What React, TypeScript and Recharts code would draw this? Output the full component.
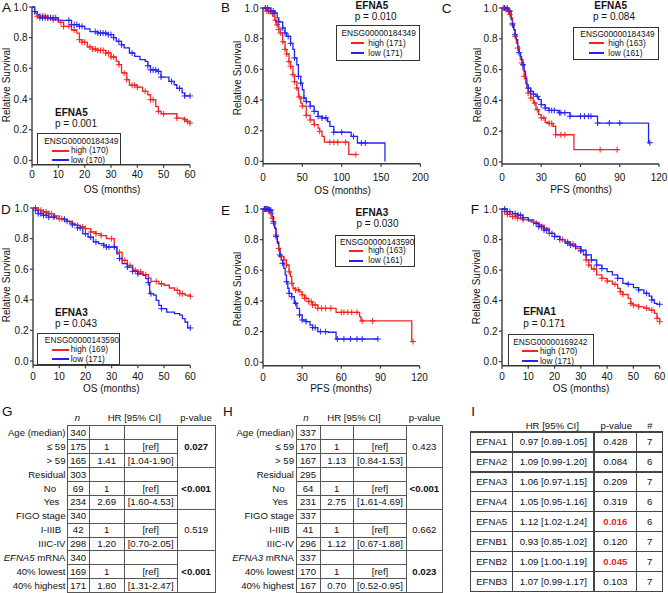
import React from 'react';
import { ComposedChart, Line, Scatter, XAxis, YAxis } from 'recharts';

type Pt = [number, number];

// ---------------- Kaplan–Meier step curves: [months, survival] ----------------
const A_HIGH: Pt[] = [[0,1],[1,0.96],[2,0.94],[6,0.93],[8,0.917],[10,0.9],[12,0.874],[15,0.85],[17,0.83],[18,0.787],[19,0.77],[21,0.74],[23,0.726],[25,0.717],[28,0.7],[30,0.674],[32,0.646],[33,0.624],[34,0.57],[36,0.526],[37,0.49],[40,0.478],[42,0.45],[44,0.428],[45,0.396],[47,0.35],[48,0.32],[49,0.304],[55,0.276],[58,0.265],[59,0.254],[60,0.243]];
const A_LOW: Pt[] = [[0,1],[1,0.97],[2,0.95],[3,0.93],[10,0.913],[15,0.885],[18,0.874],[20,0.857],[22,0.84],[25,0.83],[29,0.82],[31,0.8],[32,0.776],[34,0.754],[35,0.733],[37,0.7],[39,0.678],[41,0.657],[43,0.646],[44,0.617],[45,0.59],[48,0.58],[49,0.543],[52,0.515],[54,0.493],[55,0.47],[57,0.44],[58,0.42],[60,0.42]];
const A_HIGH_CENS = [2,3,4,5,6,7,8,11,12,14,16,18,19,20,22,23,24,25,26,27,28,29,30,31,33,35,36,38,39,40,43,45,46,48,50,55,58,59,60];
const A_LOW_CENS = [1,3,4,5,6,7,8,9,14,15,16,17,18,19,24,25,26,27,28,29,30,31,33,34,38,44,45,46,47,48,49,53,56,58,60];

const B_HIGH: Pt[] = [[0,1],[5,0.98],[10,0.963],[13,0.946],[15,0.92],[17,0.89],[20,0.86],[22,0.837],[25,0.78],[28,0.73],[30,0.7],[33,0.65],[35,0.62],[38,0.565],[40,0.52],[43,0.478],[45,0.42],[48,0.38],[50,0.36],[55,0.3],[60,0.27],[65,0.24],[70,0.217],[72,0.196],[75,0.163],[78,0.125],[109,0.045],[118,0.045]];
const B_LOW: Pt[] = [[0,1],[10,0.98],[15,0.967],[18,0.935],[20,0.91],[25,0.87],[28,0.837],[30,0.815],[35,0.77],[38,0.73],[40,0.674],[43,0.63],[45,0.554],[48,0.51],[50,0.467],[52,0.413],[55,0.39],[60,0.36],[65,0.326],[70,0.293],[75,0.283],[82,0.26],[85,0.228],[90,0.19],[112,0.163],[120,0.12],[155,0]];
const B_HIGH_CENS = [3,5,7,9,12,16,18,20,22,25,28,30,33,35,38,40,43,46,50,55,60,65,72,85,90,95,105,118];
const B_LOW_CENS = [3,6,10,13,15,20,25,28,32,35,40,45,48,52,55,60,65,70,75,80,90,100,115,125,130];

const C_HIGH: Pt[] = [[0,1],[3,0.99],[5,0.98],[6,0.957],[7,0.935],[8,0.9],[9,0.86],[10,0.816],[11,0.77],[12,0.74],[13,0.71],[14,0.665],[15,0.643],[16,0.6],[17,0.556],[18,0.513],[19,0.48],[20,0.448],[22,0.416],[24,0.383],[26,0.34],[28,0.307],[30,0.286],[33,0.258],[36,0.25],[39,0.232],[41,0.177],[55,0.08],[89,0.08]];
const C_LOW: Pt[] = [[0,1],[5,0.98],[7,0.924],[8,0.89],[9,0.86],[10,0.827],[11,0.794],[12,0.75],[13,0.71],[14,0.686],[15,0.665],[16,0.632],[17,0.589],[18,0.545],[19,0.502],[20,0.48],[22,0.459],[24,0.44],[26,0.426],[28,0.405],[30,0.372],[33,0.35],[36,0.335],[43,0.32],[52,0.297],[73,0.253],[112,0.125],[113,0.125]];
const C_HIGH_CENS = [1,2,3,4,5,6,8,10,12,15,17,20,22,25,27,30,32,36,38,41,45,48,75,88];
const C_LOW_CENS = [2,4,6,8,10,13,16,20,22,24,27,30,33,36,38,40,44,45,48,52,60,63,66,68,73,82,90,113];

const D_HIGH: Pt[] = [[0,1],[2,0.985],[4,0.974],[6,0.963],[8,0.948],[10,0.93],[12,0.913],[14,0.9],[16,0.887],[18,0.876],[20,0.865],[22,0.843],[24,0.832],[26,0.82],[28,0.8],[31,0.745],[32,0.71],[34,0.658],[36,0.625],[38,0.593],[40,0.582],[42,0.564],[44,0.542],[45,0.52],[48,0.505],[50,0.495],[52,0.477],[54,0.462],[56,0.44],[58,0.43],[60,0.423]];
const D_LOW: Pt[] = [[0,1],[1,0.985],[2,0.963],[4,0.952],[6,0.94],[9,0.93],[12,0.926],[13,0.913],[15,0.89],[17,0.87],[19,0.832],[21,0.81],[23,0.778],[25,0.767],[27,0.756],[28,0.745],[32,0.7],[33,0.67],[34,0.636],[36,0.614],[38,0.586],[40,0.57],[42,0.56],[43,0.538],[44,0.512],[44.5,0.44],[46,0.43],[47,0.396],[48,0.364],[49,0.342],[51,0.32],[54,0.31],[56,0.3],[57,0.277],[58,0.255],[59,0.216],[60,0.216]];
const D_HIGH_CENS = [1,2,3,4,5,6,7,8,10,11,15,17,19,20,22,24,26,30,33,35,37,39,41,43,47,49,55,56,57,60];
const D_LOW_CENS = [1,2,3,4,5,6,8,12,13,15,17,18,20,22,24,27,28,29,31,33,36,38,40,44,45,49,60];

const E_HIGH: Pt[] = [[0,1],[4,0.993],[6,0.97],[7,0.94],[8,0.906],[9,0.874],[10,0.83],[11,0.787],[12,0.743],[13,0.7],[14,0.69],[16,0.667],[18,0.635],[20,0.59],[21,0.56],[22,0.515],[23,0.483],[25,0.472],[28,0.46],[30,0.44],[32,0.417],[35,0.396],[38,0.374],[42,0.352],[56,0.326],[74,0.298],[75,0.27],[114,0.135],[115,0.135]];
const E_LOW: Pt[] = [[0,1],[5,0.993],[7,0.95],[8,0.917],[9,0.874],[10,0.82],[11,0.776],[12,0.733],[13,0.7],[14,0.667],[15,0.646],[16,0.613],[17,0.57],[18,0.526],[19,0.483],[20,0.45],[22,0.428],[24,0.385],[26,0.352],[28,0.309],[30,0.276],[33,0.265],[36,0.243],[38,0.226],[42,0.2],[50,0.196],[56,0.152],[88,0.152]];
const E_HIGH_CENS = [1,2,3,4,5,6,7,8,10,12,14,16,18,20,22,25,27,30,32,33,35,37,38,40,42,45,48,52,60,62,65,68,72,76,84,115];
const E_LOW_CENS = [1,2,3,4,5,6,8,10,13,15,18,20,22,25,28,30,33,38,40,44,48,57,62,67,72,76,88];

const F_HIGH: Pt[] = [[0,1],[1,0.983],[2,0.965],[4,0.95],[6,0.94],[8,0.93],[10,0.92],[12,0.913],[14,0.895],[16,0.873],[18,0.84],[20,0.82],[22,0.8],[24,0.786],[26,0.77],[28,0.742],[30,0.725],[31,0.7],[32,0.666],[33,0.633],[34,0.607],[36,0.568],[38,0.546],[40,0.528],[42,0.507],[44,0.48],[45,0.458],[46,0.44],[48,0.415],[49,0.382],[50,0.371],[52,0.36],[54,0.35],[56,0.338],[58,0.317],[59,0.284],[60,0.262]];
const F_LOW: Pt[] = [[0,1],[2,0.983],[4,0.97],[6,0.96],[8,0.943],[10,0.928],[12,0.906],[14,0.884],[16,0.862],[18,0.84],[20,0.82],[22,0.8],[24,0.776],[26,0.764],[28,0.753],[30,0.73],[32,0.7],[34,0.666],[36,0.633],[38,0.61],[40,0.59],[42,0.568],[44,0.546],[46,0.513],[48,0.507],[50,0.485],[52,0.47],[54,0.448],[56,0.43],[57,0.404],[58,0.382],[59,0.376],[60,0.376]];
const F_HIGH_CENS = [1,2,3,4,5,6,8,12,14,16,18,20,23,25,27,30,32,33,35,38,40,43,45,46,49,50,52,55,57,59,60];
const F_LOW_CENS = [1,2,3,5,6,7,8,13,14,15,16,17,19,20,22,25,26,28,30,32,34,36,38,44,48,52,55,57,60];

// ---------------- panel annotations ----------------
const PANEL_LETTERS = ['A', 'B', 'C', 'D', 'E', 'F'];
const GENES = ['EFNA5', 'EFNA5', 'EFNA5', 'EFNA3', 'EFNA3', 'EFNA1'];
const P_VALUES = ['0.001', '0.010', '0.084', '0.043', '0.030', '0.171'];
const ENSG_IDS = ['ENSG00000184349', 'ENSG00000184349', 'ENSG00000184349', 'ENSG00000143590', 'ENSG00000143590', 'ENSG00000169242'];
const N_HIGH = [170, 171, 163, 169, 163, 170];
const N_LOW = [170, 171, 161, 171, 161, 171];
const X_TITLES = ['OS (months)', 'OS (months)', 'PFS (months)', 'OS (months)', 'PFS (months)', 'OS (months)'];
const Y_TICKS = [0, 0.2, 0.4, 0.6, 0.8, 1.0];
const X_TICKS_60 = [0, 10, 20, 30, 40, 50, 60];
const X_TICKS_200 = [0, 50, 100, 150, 200];
const X_TICKS_120 = [0, 30, 60, 90, 120];

// ---------------- tables ----------------
const G_LABELS = ['Age (median)', '≤ 59', '> 59', 'Residual', 'No', 'Yes', 'FIGO stage', 'I-IIIB', 'IIIC-IV', 'EFNA5| mRNA', '40% lowest', '40% highest'];
const G_N = ['340', '175', '165', '303', '69', '234', '340', '42', '298', '340', '169', '171'];
const G_HR = ['', '1', '1.41', '', '1', '2.69', '', '1', '1.20', '', '1', '1.80'];
const G_CI = ['', '[ref]', '[1.04-1.90]', '', '[ref]', '[1.60-4.53]', '', '[ref]', '[0.70-2.05]', '', '[ref]', '[1.31-2.47]'];
const G_P = ['0.027', '<0.001', '0.519', '<0.001'];
const G_P_BOLD = [true, true, false, true];

const H_LABELS = ['Age (median)', '≤ 59', '> 59', 'Residual', 'No', 'Yes', 'FIGO stage', 'I-IIIB', 'IIIC-IV', 'EFNA3| mRNA', '40% lowest', '40% highest'];
const H_N = ['337', '170', '167', '295', '64', '231', '337', '41', '296', '337', '170', '167'];
const H_HR = ['', '1', '1.13', '', '1', '2.75', '', '1', '1.12', '', '1', '0.70'];
const H_CI = ['', '[ref]', '[0.84-1.53]', '', '[ref]', '[1.61-4.69]', '', '[ref]', '[0.67-1.88]', '', '[ref]', '[0.52-0.95]'];
const H_P = ['0.423', '<0.001', '0.662', '0.023'];
const H_P_BOLD = [false, true, false, true];

const I_GENES = ['EFNA1', 'EFNA2', 'EFNA3', 'EFNA4', 'EFNA5', 'EFNB1', 'EFNB2', 'EFNB3'];
const I_HR = ['0.97 [0.89-1.05]', '1.09 [0.99-1.20]', '1.06 [0.97-1.15]', '1.05 [0.95-1.16]', '1.12 [1.02-1.24]', '0.93 [0.85-1.02]', '1.09 [1.00-1.19]', '1.07 [0.99-1.17]'];
const I_P = ['0.428', '0.084', '0.209', '0.319', '0.016', '0.120', '0.045', '0.103'];
const I_SIG = [false, false, false, false, true, false, true, false];
const I_COUNT = ['7', '6', '7', '6', '6', '7', '7', '7'];

// ---------------- styling / layout ----------------
const RED = '#f22424';
const BLUE = '#2424f2';
const SIG_RED = '#e8262c';
const AXIS = '#3a3a3a';
const TXT = '#111';
const FONT = '"Liberation Sans", Arial, Helvetica, sans-serif';

type Anchor = 'start' | 'middle' | 'end';

const SERIES = [
  { high: A_HIGH, low: A_LOW, hc: A_HIGH_CENS, lc: A_LOW_CENS, xMax: 60, xTicks: X_TICKS_60 },
  { high: B_HIGH, low: B_LOW, hc: B_HIGH_CENS, lc: B_LOW_CENS, xMax: 200, xTicks: X_TICKS_200 },
  { high: C_HIGH, low: C_LOW, hc: C_HIGH_CENS, lc: C_LOW_CENS, xMax: 120, xTicks: X_TICKS_120 },
  { high: D_HIGH, low: D_LOW, hc: D_HIGH_CENS, lc: D_LOW_CENS, xMax: 60, xTicks: X_TICKS_60 },
  { high: E_HIGH, low: E_LOW, hc: E_HIGH_CENS, lc: E_LOW_CENS, xMax: 120, xTicks: X_TICKS_120 },
  { high: F_HIGH, low: F_LOW, hc: F_HIGH_CENS, lc: F_LOW_CENS, xMax: 60, xTicks: X_TICKS_60 },
];

const LAYOUT = [
  { x0: 32, x1: 190, yTop: 7.3, yZero: 160.7, axisY: 165, tickM: 3.5,
    letter: [2, 8], yt: [6.7, 85], xt: [112, 190],
    gene: [55, 113, 'start'], p: [55, 124, 'start'],
    lg: { l: 36.7, t: 132.7, r: 121, b: 165.5, ex: 81.3, ey: 141, l0: 53, l1: 68, tx: 71, yh: 150.5, yl: 160 } },
  { x0: 263.3, x1: 420.7, yTop: 8.3, yZero: 161.7, axisY: 164, tickM: 7.5,
    letter: [221, 7.7], yt: [238.3, 78], xt: [342.5, 190.7],
    gene: [372, 6, 'middle'], p: [375.7, 16.7, 'middle'],
    lg: { l: 335.7, t: 25, r: 420, b: 60.7, ex: 378.7, ey: 33.3, l0: 351.7, l1: 363.3, tx: 368.3, yh: 43.3, yl: 53.3 } },
  { x0: 502.3, x1: 659.3, yTop: 8.3, yZero: 162.3, axisY: 164.3, tickM: 6.5,
    letter: [441.7, 8.3], yt: [478.3, 85], xt: [581, 190],
    gene: [610.7, 5.7, 'middle'], p: [614, 16.7, 'middle'],
    lg: { l: 573.3, t: 27, r: 659, b: 60, ex: 617.5, ey: 34, l0: 590, l1: 603.3, tx: 608.3, yh: 43.3, yl: 52.7 } },
  { x0: 32.7, x1: 190, yTop: 207.7, yZero: 360.7, axisY: 365, tickM: 5,
    letter: [1, 210], yt: [6.7, 285], xt: [111.3, 388.5],
    gene: [55, 313.3, 'start'], p: [55, 324.3, 'start'],
    lg: { l: 37.3, t: 333.3, r: 120, b: 365.5, ex: 82, ey: 340.5, l0: 53.3, l1: 68.3, tx: 70.7, yh: 349.5, yl: 359.3 } },
  { x0: 262.7, x1: 419.3, yTop: 209, yZero: 362.3, axisY: 365.7, tickM: 5,
    letter: [221, 211], yt: [238.3, 289], xt: [341, 388.8],
    gene: [372, 213.3, 'middle'], p: [377.5, 224.3, 'middle'],
    lg: { l: 335, t: 235, r: 415, b: 266.7, ex: 377.2, ey: 241.7, l0: 350, l1: 361.7, tx: 368.3, yh: 250.5, yl: 260.5 } },
  { x0: 502.3, x1: 660, yTop: 209, yZero: 361.7, axisY: 365.7, tickM: 4,
    letter: [470.7, 210], yt: [476.7, 286.7], xt: [581, 388.5],
    gene: [523.3, 311.7, 'start'], p: [523.3, 324.3, 'start'],
    lg: { l: 508.3, t: 334.3, r: 594, b: 366, ex: 550.3, ey: 341.7, l0: 523.3, l1: 536.7, tx: 540, yh: 351, yl: 361.3 } },
];

// ---------------- helpers ----------------
const survAt = (curve: Pt[], t: number) => {
  let s = curve[0][1];
  for (const [tt, ss] of curve) if (tt <= t) s = ss;
  return s;
};
const toRows = (c: Pt[]) => c.map(([t, s]) => ({ t, s }));
const toCens = (curve: Pt[], times: number[]) => times.map((t) => ({ t, s: survAt(curve, t) }));

const plusShape = (color: string) => (props: any) => {
  const { cx, cy } = props;
  if (cx == null || cy == null || isNaN(cx) || isNaN(cy)) return <g />;
  return (
    <path d={`M${cx - 3},${cy}H${cx + 3}M${cx},${cy - 3}V${cy + 3}`} stroke={color} strokeWidth={1} fill="none" />
  );
};

function Txt({ x, y, size = 10, anchor = 'start', bold, italic, color = TXT, children }: {
  x: number; y: number; size?: number; anchor?: Anchor; bold?: boolean; italic?: boolean; color?: string; children: React.ReactNode;
}) {
  const tx = anchor === 'middle' ? '-50%' : anchor === 'end' ? '-100%' : '0';
  return (
    <div
      style={{
        position: 'absolute', left: x, top: y - size * 0.5, lineHeight: `${size}px`, fontSize: size,
        fontWeight: bold ? 700 : 400, fontStyle: italic ? 'italic' : 'normal', color,
        whiteSpace: 'nowrap', transform: `translateX(${tx})`, fontFamily: FONT,
      }}
    >
      {children}
    </div>
  );
}

function HLine({ x0, x1, y, color = '#555', w = 1 }: { x0: number; x1: number; y: number; color?: string; w?: number }) {
  return <div style={{ position: 'absolute', left: x0 - w / 2, top: y - w / 2, width: x1 - x0 + w, height: w, background: color }} />;
}
function VLine({ x, y0, y1, color = '#555', w = 1 }: { x: number; y0: number; y1: number; color?: string; w?: number }) {
  return <div style={{ position: 'absolute', left: x - w / 2, top: y0 - w / 2, width: w, height: y1 - y0 + w, background: color }} />;
}

function KMPanel({ idx }: { idx: number }) {
  const L = LAYOUT[idx];
  const S = SERIES[idx];
  const leftPad = 34, rightPad = 14, topPad = 8, bottomPad = 26;
  const w = L.x1 - L.x0 + leftPad + rightPad;
  const h = L.axisY - L.yTop + topPad + bottomPad;
  const yMin = -(L.axisY - L.yZero) / (L.yZero - L.yTop);
  const tickStyle = { fontSize: 10, fill: TXT, fontFamily: FONT };
  const lg = L.lg;
  return (
    <>
      <div style={{ position: 'absolute', left: L.x0 - leftPad, top: L.yTop - topPad }}>
        <ComposedChart width={w} height={h} margin={{ top: topPad, right: rightPad, bottom: 0, left: 0 }}>
          <XAxis type="number" dataKey="t" domain={[0, S.xMax]} ticks={S.xTicks} interval={0} height={bottomPad}
            tickSize={3} tickMargin={L.tickM} axisLine={{ stroke: AXIS, strokeWidth: 1.4 }}
            tickLine={{ stroke: AXIS, strokeWidth: 1.2 }} tick={tickStyle} />
          <YAxis type="number" dataKey="s" domain={[yMin, 1]} ticks={Y_TICKS} interval={0} width={leftPad}
            tickSize={3} tickMargin={1.5} tickFormatter={(v: number) => v.toFixed(1)}
            axisLine={{ stroke: AXIS, strokeWidth: 1.4 }} tickLine={{ stroke: AXIS, strokeWidth: 1.2 }} tick={tickStyle} />
          <Line data={toRows(S.high)} dataKey="s" type="stepAfter" stroke={RED} strokeWidth={1.3} dot={false} isAnimationActive={false} />
          <Line data={toRows(S.low)} dataKey="s" type="stepAfter" stroke={BLUE} strokeWidth={1.3} dot={false} isAnimationActive={false} />
          <Scatter data={toCens(S.high, S.hc)} dataKey="s" shape={plusShape(RED)} isAnimationActive={false} />
          <Scatter data={toCens(S.low, S.lc)} dataKey="s" shape={plusShape(BLUE)} isAnimationActive={false} />
        </ComposedChart>
      </div>
      <Txt x={L.letter[0]} y={L.letter[1]} size={13.5}>{PANEL_LETTERS[idx]}</Txt>
      <div style={{
        position: 'absolute', left: L.yt[0], top: L.yt[1], transform: 'translate(-50%, -50%) rotate(-90deg)',
        fontSize: 10, lineHeight: '10px', whiteSpace: 'nowrap', color: TXT, fontFamily: FONT,
      }}>Relative Survival</div>
      <Txt x={L.xt[0]} y={L.xt[1]} anchor="middle">{X_TITLES[idx]}</Txt>
      <Txt x={L.gene[0] as number} y={L.gene[1] as number} anchor={L.gene[2] as Anchor} bold>{GENES[idx]}</Txt>
      <Txt x={L.p[0] as number} y={L.p[1] as number} anchor={L.p[2] as Anchor}>{`p = ${P_VALUES[idx]}`}</Txt>
      <div style={{
        position: 'absolute', left: lg.l, top: lg.t, width: lg.r - lg.l, height: lg.b - lg.t,
        border: '1px solid #333', boxSizing: 'border-box', background: '#fff',
      }} />
      <Txt x={lg.ex} y={lg.ey} size={8.3} anchor="middle">{ENSG_IDS[idx]}</Txt>
      <HLine x0={lg.l0} x1={lg.l1} y={lg.yh} color={RED} w={2} />
      <HLine x0={lg.l0} x1={lg.l1} y={lg.yl} color={BLUE} w={2} />
      <Txt x={lg.tx} y={lg.yh} size={8.3}>{`high (${N_HIGH[idx]})`}</Txt>
      <Txt x={lg.tx} y={lg.yl} size={8.3}>{`low (${N_LOW[idx]})`}</Txt>
    </>
  );
}

function renderLabel(s: string) {
  const parts = s.split('|');
  if (parts.length === 2) return (<><i>{parts[0]}</i>{parts[1]}</>);
  return s;
}

function ClinTable({ letter, letterPos, cols, top, rowH, headerY, headerX, labels, labelPos, n, hr, ci, p, pBold }: {
  letter: string; letterPos: number[]; cols: number[]; top: number; rowH: number; headerY: number; headerX: number[];
  labels: string[]; labelPos: [Anchor, number][]; n: string[]; hr: string[]; ci: string[]; p: string[]; pBold: boolean[];
}) {
  const fs = 9.6;
  const rows = labels.length;
  const bottom = top + rows * rowH;
  const items: React.ReactNode[] = [];
  cols.forEach((x, i) => items.push(<VLine key={`v${i}`} x={x} y0={top} y1={bottom} />));
  for (let r = 0; r <= rows; r++) {
    const y = top + r * rowH;
    items.push(<HLine key={`h${r}`} x0={cols[0]} x1={r % 3 === 0 ? cols[4] : cols[3]} y={y} />);
  }
  const cx = (c: number) => (cols[c] + cols[c + 1]) / 2;
  labels.forEach((lab, r) => {
    const y = top + (r + 0.5) * rowH;
    items.push(<Txt key={`l${r}`} x={labelPos[r][1]} y={y} size={fs} anchor={labelPos[r][0]}>{renderLabel(lab)}</Txt>);
    items.push(<Txt key={`n${r}`} x={cx(0)} y={y} size={fs} anchor="middle">{n[r]}</Txt>);
    if (hr[r]) items.push(<Txt key={`hr${r}`} x={cx(1)} y={y} size={fs} anchor="middle">{hr[r]}</Txt>);
    if (ci[r]) items.push(<Txt key={`ci${r}`} x={cx(2)} y={y} size={fs} anchor="middle">{ci[r]}</Txt>);
  });
  p.forEach((pv, g) => {
    items.push(<Txt key={`p${g}`} x={cx(3)} y={top + (g * 3 + 1.5) * rowH} size={fs} anchor="middle" bold={pBold[g]}>{pv}</Txt>);
  });
  return (
    <>
      <Txt x={letterPos[0]} y={letterPos[1]} size={13.5}>{letter}</Txt>
      <Txt x={headerX[0]} y={headerY} size={fs} anchor="middle" italic>n</Txt>
      <Txt x={headerX[1]} y={headerY} size={fs} anchor="middle">HR [95% CI]</Txt>
      <Txt x={headerX[2]} y={headerY} size={fs} anchor="middle">p-value</Txt>
      {items}
    </>
  );
}

function GeneTable() {
  const cols = [470.7, 512.7, 594, 636.7, 662.7];
  const top = 432;
  const rowH = 19.95;
  const fs = 9.6;
  const lineC = '#444';
  const items: React.ReactNode[] = [];
  const bottom = top + I_GENES.length * rowH;
  cols.forEach((x, i) => items.push(<VLine key={`v${i}`} x={x} y0={top} y1={bottom} color={lineC} w={1.3} />));
  for (let r = 0; r <= I_GENES.length; r++) {
    items.push(<HLine key={`h${r}`} x0={cols[0]} x1={cols[4]} y={top + r * rowH} color={lineC} w={1.3} />);
  }
  const cx = (c: number) => (cols[c] + cols[c + 1]) / 2;
  I_GENES.forEach((g, r) => {
    const y = top + (r + 0.5) * rowH;
    items.push(<Txt key={`g${r}`} x={cx(0)} y={y} size={fs} anchor="middle">{g}</Txt>);
    items.push(<Txt key={`hr${r}`} x={cx(1)} y={y} size={fs} anchor="middle">{I_HR[r]}</Txt>);
    items.push(<Txt key={`p${r}`} x={cx(2)} y={y} size={fs} anchor="middle" bold={I_SIG[r]} color={I_SIG[r] ? SIG_RED : TXT}>{I_P[r]}</Txt>);
    items.push(<Txt key={`c${r}`} x={cx(3)} y={y} size={fs} anchor="middle">{I_COUNT[r]}</Txt>);
  });
  return (
    <>
      <Txt x={471.3} y={412} size={13.5}>I</Txt>
      <Txt x={552.3} y={425.3} size={fs} anchor="middle">HR [95% CI]</Txt>
      <Txt x={616.3} y={425.3} size={fs} anchor="middle">p-value</Txt>
      <Txt x={650} y={425.3} size={fs} anchor="middle">#</Txt>
      {items}
    </>
  );
}

const G_LABEL_POS: [Anchor, number][] = [['end', 65.5], ['end', 65.5], ['end', 65.5], ['end', 65.5], ['middle', 50], ['middle', 51.5], ['end', 65.5], ['middle', 51], ['end', 65.5], ['end', 65.5], ['end', 65.5], ['end', 65.5]];
const H_LABEL_POS: [Anchor, number][] = G_LABEL_POS.map(([a, x]) => [a, x + 228.5] as [Anchor, number]);

export default function App() {
  return (
    <div style={{ position: 'absolute', left: 0, top: 0, width: 668, height: 593, background: '#fff', overflow: 'hidden', fontFamily: FONT }}>
      {[0, 1, 2, 3, 4, 5].map((i) => <KMPanel key={i} idx={i} />)}
      <ClinTable letter="G" letterPos={[2, 411.7]} cols={[67, 89.3, 124, 177.3, 215]} top={425.8} rowH={13.9}
        headerY={418} headerX={[77.3, 134.3, 196]} labels={G_LABELS} labelPos={G_LABEL_POS}
        n={G_N} hr={G_HR} ci={G_CI} p={G_P} pBold={G_P_BOLD} />
      <ClinTable letter="H" letterPos={[223, 411.7]} cols={[296, 320, 353.3, 406.7, 442]} top={425.8} rowH={13.9}
        headerY={417.5} headerX={[306, 354, 424.5]} labels={H_LABELS} labelPos={H_LABEL_POS}
        n={H_N} hr={H_HR} ci={H_CI} p={H_P} pBold={H_P_BOLD} />
      <GeneTable />
    </div>
  );
}
